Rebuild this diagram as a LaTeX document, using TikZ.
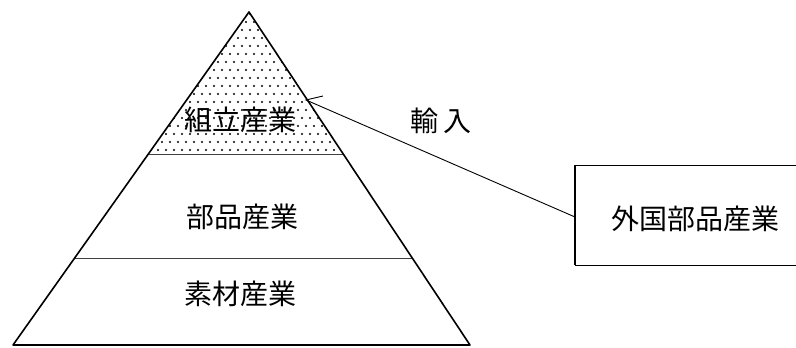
\documentclass[tikz,border=0pt]{standalone}
\usepackage{fontspec}
\newfontfamily\cjk{Noto Sans CJK JP}
\begin{document}
\begin{tikzpicture}[x=1pt,y=-1pt,
  edge/.style={line width=1.6pt, line cap=round, line join=round},
  tier/.style={line width=0.8pt, draw=black!75},
  boxline/.style={line width=0.8pt},
  label/.style={font=\cjk\fontsize{28}{30}\selectfont, inner sep=0pt},
  link/.style={line width=0.9pt}]
\useasboundingbox (0,0) rectangle (796,348);
% pyramid corners
\coordinate (apex) at (249,12);
\coordinate (bl) at (13,345);
\coordinate (br) at (470,345);
\coordinate (l1) at (148.4,154);
\coordinate (r1) at (343,154);
\coordinate (l2) at (75,258);
\coordinate (r2) at (412,258);
\coordinate (imp) at (306,100);
\coordinate (barb) at (323,96);
% dotted top tier
\begin{scope}
  \clip (apex) -- (l1) -- (r1) -- cycle;
  \foreach \i in {0,...,27} {
    \foreach \j in {0,...,18} {
      \pgfmathsetmacro{\dx}{138+\i*8+mod(\j,2)*4}
      \pgfmathsetmacro{\dy}{14+\j*8}
      \fill (\dx,\dy) circle (1.05);
    }
  }
\end{scope}
% tiers
\draw[tier] (l1) -- (r1);
\draw[tier] (l2) -- (r2);
\draw[edge] (apex) -- (bl) -- (br) -- cycle;
% foreign box (open to the right edge)
\coordinate (bt) at (575,165);
\coordinate (bb) at (575,265);
\coordinate (bl2) at (575,217);
\draw[boxline] (796,165) -- (bt);
\draw[boxline] (796,265) -- (bb);
\draw[line width=1.6pt] (bt) -- (bb);
% labels
\node[label] (assembly) at (240,120) {組立産業};
\node[label] (parts) at (242,217) {部品産業};
\node[label] (material) at (240,294) {素材産業};
\node[label] (import) at (441,121) {輸\hspace{5pt}入};
\node[label] (foreign) at (695,219) {外国部品産業};
% import connector with its one-sided barb
\draw[link] (bl2) -- (imp) -- (barb);
\end{tikzpicture}
\end{document}
